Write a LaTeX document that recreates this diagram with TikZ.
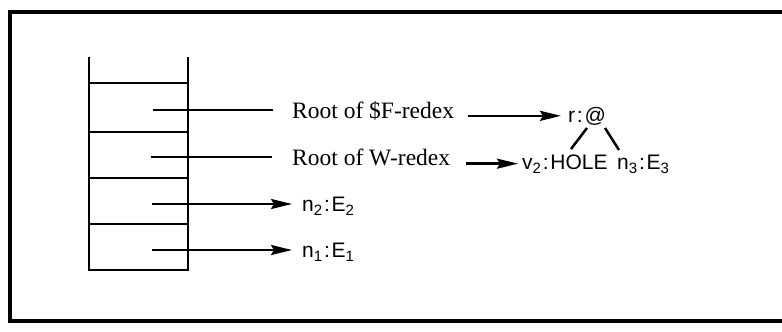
\documentclass[tikz,border=0pt]{standalone}
\usepackage{fontspec}
\setmainfont{Liberation Serif}
\newfontfamily\lsans{Liberation Sans}
\usetikzlibrary{arrows.meta}
\newcommand{\lowsub}[1]{\raisebox{-4pt}{\fontsize{15}{15}\selectfont #1}}
\newcommand{\lcolon}{\kern1.8pt:\kern1.8pt}
\begin{document}
\begin{tikzpicture}[x=1pt,y=-1pt,
  rule/.style={line width=2.8pt},
  frame/.style={line width=3.2pt},
  link/.style={line width=2.5pt},
  ptr/.style={line width=2.5pt,-{Stealth[length=21pt,width=10pt,inset=3pt]}},
  serif/.style={inner sep=0pt,anchor=base west,font=\fontsize{23.5}{23.5}\selectfont},
  lab/.style={inner sep=0pt,anchor=base west,font=\lsans\fontsize{21}{21}\selectfont}]
\useasboundingbox (0,0) rectangle (782,332);
% outer frame
\draw[frame] (782,12) -- (10,12) -- (10,321) -- (782,321);
% stack
\draw[rule] (89,57) -- (89,270) -- (188,270) -- (188,57);
\foreach \y in {83,132,178,224} \draw[rule] (89,\y) -- (188,\y);
% texts
\node[serif] (fr) at (292,118) {Root of \$F-redex};
\node[serif] (wr) at (292,165) {Root of W-redex};
\node[lab] (n2) at (302,211) {n\lowsub{2}\lcolon E\lowsub{2}};
\node[lab] (n1) at (302,257) {n\lowsub{1}\lcolon E\lowsub{1}};
\node[lab] (r) at (568,122) {r\lcolon @};
\node[lab] (v2) at (522,169) {v\lowsub{2}\lcolon HOLE};
\node[lab] (n3) at (617,169) {n\lowsub{3}\lcolon E\lowsub{3}};
% stack pointers
\coordinate (s1) at (153,110);
\coordinate (s2) at (151,157);
\coordinate (s3) at (152,204);
\coordinate (s4) at (152,250);
\draw[link,shorten >=19pt] (s1) -- (s1 -| fr.west);
\draw[link,shorten >=20pt] (s2) -- (s2 -| wr.west);
\draw[ptr,shorten >=10pt] (s3) -- (s3 -| n2.west);
\draw[ptr,shorten >=10pt] (s4) -- (s4 -| n1.west);
% arrows to the graph
\draw[ptr,shorten <=14pt,shorten >=7pt] (fr.east |- r.west) -- (r.west);
\draw[ptr,shorten <=16pt,shorten >=4pt] (wr.east |- v2.west) -- (v2.west);
% tree edges
\coordinate (t1) at (587,128);
\coordinate (t2) at (605,128);
\coordinate (b1) at (571,149);
\coordinate (b2) at (619,150);
\draw[link] (t1) -- (b1);
\draw[link] (t2) -- (b2);
\end{tikzpicture}
\end{document}
